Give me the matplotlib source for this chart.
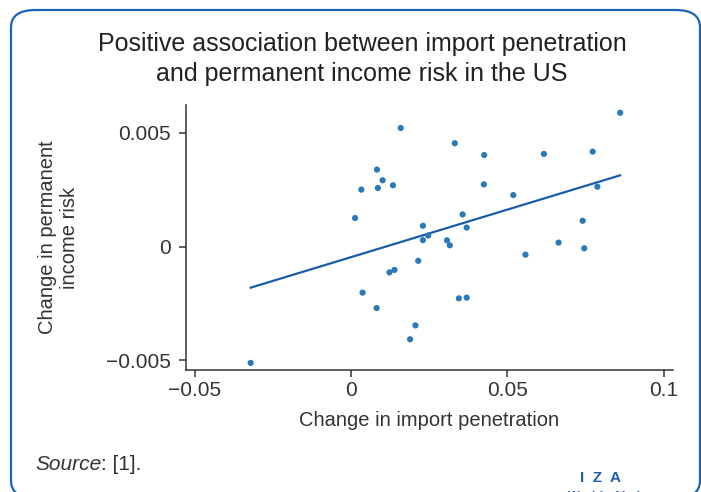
import matplotlib
matplotlib.use("Agg")
from matplotlib import pyplot as plt
from matplotlib.patches import FancyBboxPatch

# change in import penetration vs change in permanent income risk
import_change = [0.0861, 0.0159, 0.0332, 0.0773, 0.0617, 0.0426, 0.0083, 0.0101, 0.0086,
                 0.0033, 0.0134, 0.0425, 0.0788, 0.0519, 0.0357, 0.0013, 0.0741, 0.0230,
                 0.0370, 0.0247, 0.0230, 0.0307, 0.0316, 0.0664, 0.0746, 0.0558, 0.0215,
                 0.0139, 0.0123, 0.0037, 0.0345, 0.0370, 0.0082, 0.0206, 0.0189, -0.0321]
risk_change = [0.00589, 0.00522, 0.00455, 0.00418, 0.00408, 0.00403, 0.00339, 0.00292, 0.00258,
               0.00251, 0.00270, 0.00274, 0.00264, 0.00227, 0.00142, 0.00126, 0.00114, 0.00092,
               0.00084, 0.00049, 0.00029, 0.00028, 0.00006, 0.00018, -0.00007, -0.00035, -0.00062,
               -0.00102, -0.00113, -0.00202, -0.00227, -0.00224, -0.00270, -0.00346, -0.00407, -0.00511]

# fitted line
fit_slope = 0.0418
fit_intercept = -0.00046

xticks = [-0.05, 0, 0.05, 0.1]
xtick_labels = ["\u22120.05", "0", "0.05", "0.1"]
yticks = [-0.005, 0, 0.005]
ytick_labels = ["\u22120.005", "0", "0.005"]

plt.rcParams["font.family"] = ["Liberation Sans", "DejaVu Sans"]

fig = plt.figure(figsize=(7.01, 4.92), dpi=100)
W, H = 701, 492

# rounded blue frame, bottom and right edges run off the canvas like the original
frame = FancyBboxPatch((11 / W, -6 / H), (700 - 11) / W, (482 + 6) / H,
                       boxstyle="round,pad=0,rounding_size=0.035", transform=fig.transFigure,
                       facecolor="none", edgecolor="#1b64b5", linewidth=1.6, clip_on=False)
fig.patches.append(frame)

fig.text(362 / W, 1 - 59 / H, "Positive association between import penetration\nand permanent income risk in the US",
         ha="center", va="center", fontsize=18, color="#222222", linespacing=1.27)

ax = fig.add_axes([185.7 / W, 1 - 370 / H, (672.7 - 185.7) / W, (370 - 105) / H])
ax.scatter(import_change, risk_change, s=20, color="#2a7ab9", edgecolors="none", zorder=3)
xs = [min(import_change), max(import_change)]
ax.plot(xs, [fit_slope * v + fit_intercept for v in xs], color="#1a5ca8", linewidth=1.6, zorder=2)

ax.set_xlim(-0.05288, 0.1029)
ax.set_ylim(-0.005422, 0.006231)
ax.set_xticks(xticks)
ax.set_xticklabels(xtick_labels)
ax.set_yticks(yticks)
ax.set_yticklabels(ytick_labels)
for side in ["top", "right"]:
    ax.spines[side].set_visible(False)
for side in ["left", "bottom"]:
    ax.spines[side].set_color("#333333")
    ax.spines[side].set_linewidth(1.1)
ax.tick_params(axis="both", direction="out", length=5, width=1.1, color="#333333",
               labelsize=15, labelcolor="#333333", pad=3)
ax.tick_params(axis="y", pad=6)
ax.set_xlabel("Change in import penetration", fontsize=14.5, color="#333333", va="center")
ax.xaxis.set_label_coords(0.5, -0.192)
ax.set_ylabel("Change in permanent\nincome risk", fontsize=14.5, color="#333333", va="center",
              linespacing=1.2)
ax.yaxis.set_label_coords(-0.262, 0.5)

src = fig.text(35 / W, 1 - 465 / H, "Source", style="italic", fontsize=15, color="#333333", va="center")
ax.annotate(": [1].", xy=(1, 0.5), xycoords=src, va="center", ha="left", fontsize=15,
            color="#333333", annotation_clip=False)

fig.text(601 / W, 1 - 478 / H, "I  Z  A", fontsize=11, color="#1b5fae", fontweight="bold",
         ha="center", va="center")
fig.text(612 / W, 1 - 497 / H, "World of Labor", fontsize=9, color="#1b5fae", fontweight="bold",
         ha="center", va="center")

fig.savefig("out.png", dpi=100)
